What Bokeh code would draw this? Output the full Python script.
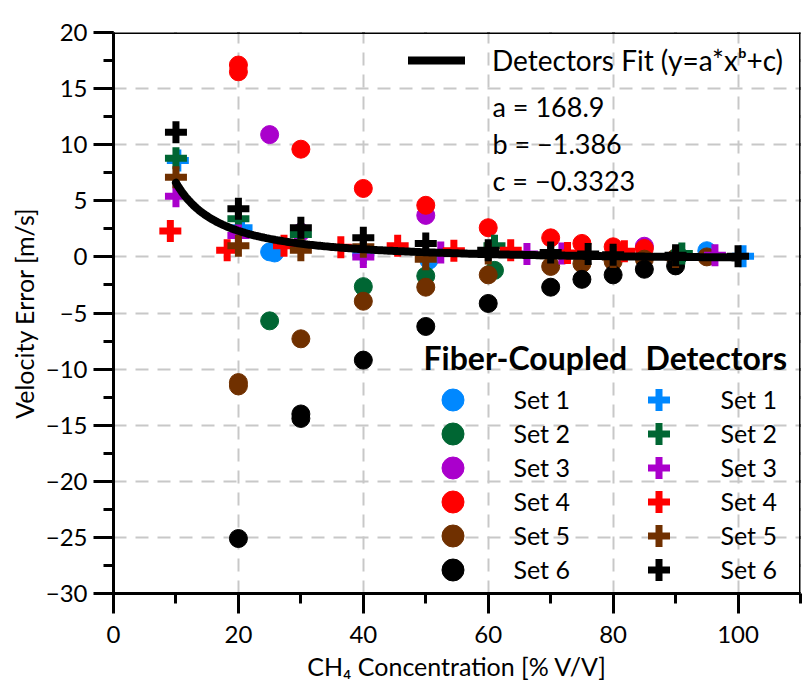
import numpy as np
from bokeh.plotting import figure
from bokeh.models import (Range1d, LinearAxis, SingleIntervalTicker, Legend,
                          LegendItem, Label)
from bokeh.embed import file_html
from bokeh.resources import INLINE

FONT = "Lato"

# ---------------- data ----------------
set_names = ["Set 1", "Set 2", "Set 3", "Set 4", "Set 5", "Set 6"]
set_colors = ["#0088FF", "#006633", "#AA00CC", "#FF0000", "#703000", "#000000"]

# Fiber-coupled (circles)
fc1_x = [25, 25.8, 50.5, 95]
fc1_y = [0.45, 0.35, -0.3, 0.55]
fc2_x = [25, 40, 50, 61, 90.5]
fc2_y = [-5.7, -2.65, -1.7, -1.2, 0.1]
fc3_x = [25, 30, 50, 85]
fc3_y = [10.9, 2.2, 3.7, 0.95]
fc4_x = [20, 20, 30, 40, 50, 60, 70, 75, 80, 85]
fc4_y = [17.1, 16.5, 9.6, 6.1, 4.6, 2.6, 1.7, 1.2, 0.9, 0.75]
fc5_x = [20, 20, 30, 40, 50, 60, 70, 75, 80, 85, 90, 95]
fc5_y = [-11.2, -11.5, -7.3, -3.95, -2.7, -1.6, -0.85, -0.6, -0.4, -0.2, -0.1, 0.0]
fc6_x = [20, 30, 30, 40, 50, 60, 70, 75, 80, 85, 90]
fc6_y = [-25.1, -14.0, -14.4, -9.2, -6.2, -4.15, -2.7, -2.0, -1.6, -1.1, -0.8]

# Detectors (crosses)
det1_x = [10.3, 20.5, 40, 100.8]
det1_y = [8.6, 2.6, 0.35, 0.05]
det2_x = [10, 20, 30, 61, 91]
det2_y = [8.8, 3.4, 2.0, 1.0, 0.3]
det3_x = [10, 20, 40, 52.4, 66.2, 71.8, 96.3]
det3_y = [5.4, 1.9, 0.0, 0.4, 0.25, 0.3, 0.15]
det4_x = [9.1, 18.2, 27.3, 36.4, 45.5, 54.5, 63.6, 72.7, 81.8]
det4_y = [2.3, 0.6, 1.0, 0.85, 1.0, 0.55, 0.6, 0.35, 0.5]
det5_x = [10, 20, 30, 40, 50, 60, 70, 80, 90]
det5_y = [7.1, 1.0, 0.6, 0.9, -0.2, 0.3, 0.1, 0.0, 0.0]
det6_x = [10, 20, 30, 40, 50, 60, 70, 76, 80, 90, 100]
det6_y = [11.1, 4.3, 2.6, 1.7, 1.2, 0.6, 0.4, 0.25, 0.2, 0.15, 0.05]

# Fit parameters (Detectors Fit y = a*x^b + c)
a_fit = 168.9
b_fit = -1.386
c_fit = -0.3323
fit_x_min, fit_x_max = 10, 100

x_ticks_interval = 20
y_ticks_interval = 5
x_tick_values = list(range(0, 120, 20))
y_tick_values = list(range(-30, 25, 5))

fc_x = [fc1_x, fc2_x, fc3_x, fc4_x, fc5_x, fc6_x]
fc_y = [fc1_y, fc2_y, fc3_y, fc4_y, fc5_y, fc6_y]
det_x = [det1_x, det2_x, det3_x, det4_x, det5_x, det6_x]
det_y = [det1_y, det2_y, det3_y, det4_y, det5_y, det6_y]

# ---------------- figure ----------------
FRAME_BOTTOM = 593  # px from the top of the page (used for screen-unit annotations)

p = figure(width=810, height=691, output_backend="svg", toolbar_location=None,
           x_range=Range1d(0, 110), y_range=Range1d(-30, 20),
           min_border_left=113, min_border_right=10, min_border_top=32,
           min_border_bottom=98, outline_line_color=None)
p.background_fill_color = "white"
p.border_fill_color = "white"

xt = SingleIntervalTicker(interval=x_ticks_interval, num_minor_ticks=2)
yt = SingleIntervalTicker(interval=y_ticks_interval, num_minor_ticks=2)


def style_axis(ax, tick_out=20, minor_out=10):
    ax.axis_line_width = 3
    ax.axis_line_color = "black"
    ax.major_tick_line_width = 3
    ax.minor_tick_line_width = 3
    ax.major_tick_line_color = "black"
    ax.minor_tick_line_color = "black"
    ax.major_tick_out = tick_out
    ax.major_tick_in = 0
    ax.minor_tick_out = minor_out
    ax.minor_tick_in = 0
    ax.major_label_text_font = FONT
    ax.major_label_text_font_size = "24px"
    ax.major_label_text_color = "black"
    ax.axis_label_text_font = FONT
    ax.axis_label_text_font_size = "25px"
    ax.axis_label_text_font_style = "normal"
    ax.axis_label_text_color = "black"


xa = p.xaxis[0]
ya = p.yaxis[0]
xa.ticker = xt
ya.ticker = yt
style_axis(xa)
style_axis(ya)
xa.major_label_standoff = 12
xa.axis_label = "CH\u2084 Concentration [% V/V]"
xa.axis_label_standoff = 5
ya.major_label_standoff = 6
ya.axis_label = "Velocity Error [m/s]"
ya.axis_label_standoff = 4
ya.major_label_overrides = {v: str(v).replace("-", "\u2212") for v in y_tick_values}

# mirrored axes (ticks only) on top and right, pinned to the range ends
top = LinearAxis(ticker=xt, fixed_location=20)
style_axis(top)
top.major_label_overrides = {v: "" for v in x_tick_values}
p.add_layout(top, "above")

right = LinearAxis(ticker=yt, fixed_location=110)
style_axis(right, tick_out=10, minor_out=10)
right.major_label_overrides = {v: "" for v in y_tick_values}
p.add_layout(right, "right")

p.xgrid.ticker = xt
p.ygrid.ticker = yt
p.grid.grid_line_color = "#C8C8C8"
p.grid.grid_line_width = 2
p.grid.grid_line_dash = "13 9"

# ---------------- data marks ----------------
fc_renderers = []
for xs, ys, col in zip(fc_x, fc_y, set_colors):
    r = p.scatter(xs, ys, marker="circle", size=18, fill_color=col, line_color=col,
                  line_width=1)
    fc_renderers.append(r)

det_renderers = []
for xs, ys, col in zip(det_x, det_y, set_colors):
    r = p.scatter(xs, ys, marker="cross", size=22, line_color=col, line_width=7)
    det_renderers.append(r)

fit_x = np.linspace(fit_x_min, fit_x_max, 300)
fit_y = a_fit * fit_x ** b_fit + c_fit
fit_r = p.line(fit_x, fit_y, line_width=8, line_color="black", line_cap="round")

# ---------------- legends ----------------
leg_fit = Legend(items=[LegendItem(label="Detectors Fit (y=a*x\u1d47+c)", renderers=[fit_r])],
                 location=(295, 516), glyph_width=57, glyph_height=30,
                 label_standoff=27, padding=0, spacing=0, margin=0,
                 background_fill_alpha=0, border_line_alpha=0,
                 label_text_font=FONT, label_text_font_size="28px",
                 label_text_color="black")
p.add_layout(leg_fit)

ROW0, ROW_STEP, GLYPH = 399, 34, 55
for col_x, standoff, rends in [(311.5, 34, fc_renderers), (517.5, 35, det_renderers)]:
    for i, (n, r) in enumerate(zip(set_names, rends)):
        yc = ROW0 + ROW_STEP * i
        leg = Legend(items=[LegendItem(label=n, renderers=[r])],
                     location=(col_x, FRAME_BOTTOM - (yc + GLYPH / 2)),
                     glyph_width=GLYPH, glyph_height=GLYPH, spacing=0,
                     label_standoff=standoff, padding=0, margin=0,
                     background_fill_alpha=0, border_line_alpha=0,
                     label_text_font=FONT, label_text_font_size="25px",
                     label_text_color="black")
        p.add_layout(leg)


def fmt(v):
    return str(v).replace("-", "\u2212")


for txt, yc in [(f"a = {fmt(a_fit)}", 106), (f"b = {fmt(b_fit)}", 143), (f"c = {fmt(c_fit)}", 180)]:
    p.add_layout(Label(x=379, y=FRAME_BOTTOM - yc, x_units="screen", y_units="screen", text=txt,
                       text_font=FONT, text_font_size="27px", text_baseline="middle",
                       text_color="black"))

for txt, xs in [("Fiber-Coupled", 310), ("Detectors", 532)]:
    p.add_layout(Label(x=xs, y=FRAME_BOTTOM - 357, x_units="screen", y_units="screen", text=txt,
                       text_font=FONT, text_font_size="32px", text_font_style="bold",
                       text_baseline="middle", text_color="black"))

open("out.html", "w").write(file_html(p, INLINE))
